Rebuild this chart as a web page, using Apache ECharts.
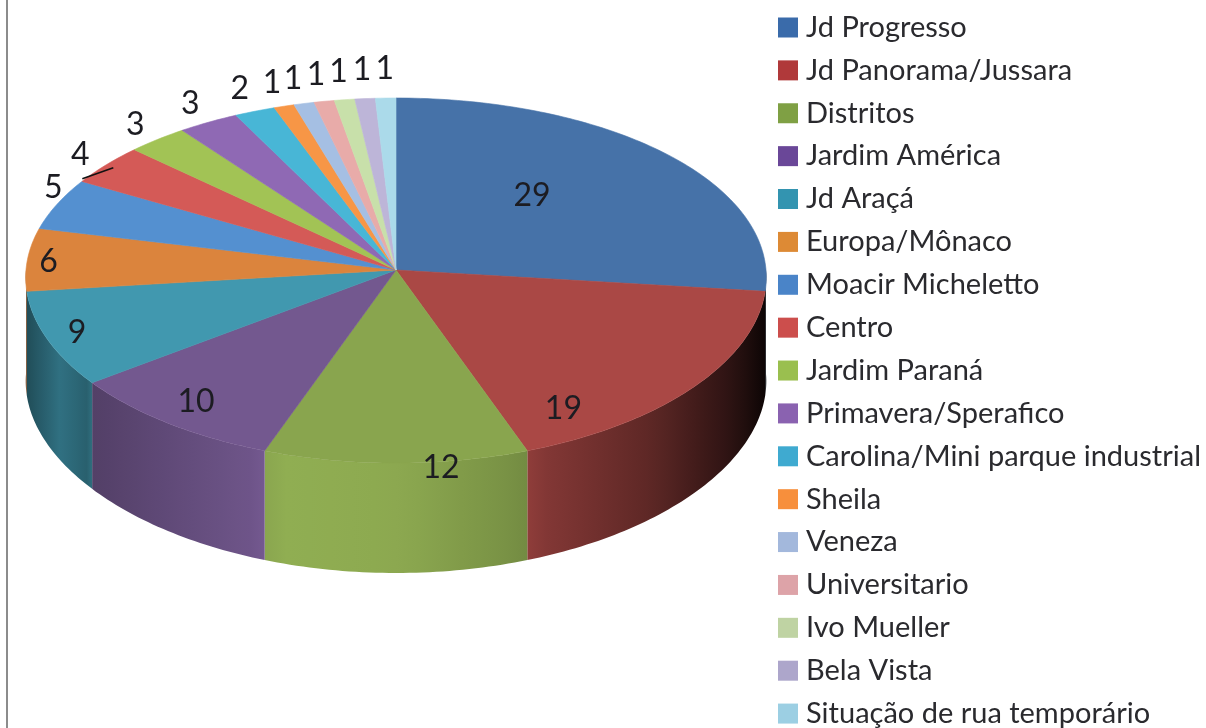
<!DOCTYPE html>
<html><head><meta charset="utf-8">
<style>html,body{margin:0;padding:0;background:#fff}#c{width:1206px;height:728px}</style>
<script src="https://cdn.jsdelivr.net/npm/echarts@6/dist/echarts.min.js"></script>
</head><body><div id="c"></div>
<script>
const categories = ["Jd Progresso","Jd Panorama/Jussara","Distritos","Jardim América","Jd Araçá","Europa/Mônaco","Moacir Micheletto","Centro","Jardim Paraná","Primavera/Sperafico","Carolina/Mini parque industrial","Sheila","Veneza","Universitario","Ivo Mueller","Bela Vista","Situação de rua temporário"];
const values = [29,19,12,10,9,6,5,4,3,3,2,1,1,1,1,1,1];
const faceColors = ["#4672A8","#AA4845","#89A54E","#73588F","#4198AF","#DB843D","#5490D0","#D45A57","#A2C355","#8F69B4","#48B6D6","#F79646","#A5BFE3","#E8ABA9","#C8E0AA","#BDB5D8","#ABDAEA"];
const legendColors = ["#3A6BAA","#B0393A","#7FA044","#6A4798","#3394B0","#DD8A35","#4A84C8","#CC4E4C","#9ABF4F","#8A62B0","#3FAAD0","#F78F3C","#A3B8DC","#DDA3A8","#BFD3A3","#ADA6CB","#9CCFE3"];
const labelNudges = [[-133,42],[-130,21],[45,5],[28,-21],[30,-6],[21,2],[-4,-16],[-26,-10],[-22,-15],[-18,-19],[-15,-23],[-12,-24],[-11,-25],[-8,-27],[-6,-28],[-3,-29],[-1,-29]];
const wallLight = [[26,.5],[60,.74],[89,.62],[91,.72],[264,.98],[266,1.06],[400,1.02],[526,.86],[530,.8],[650,.55],[735,.25],[766,.07]];

const total = values.reduce((a,b)=>a+b,0);
const CX=396, CY=270, RX=370, RY=182.5, BULGE=10.5, DEPTH=104, DEPTH_GROW=6, SKEW=.04;
function project(deg){
  const t=deg*Math.PI/180, s=Math.sin(t), c=Math.cos(t);
  return [CX+RX*s*(1-SKEW*c), CY-RY*c+BULGE*c*c];
}
function wallDepth(deg){
  const c=Math.cos(deg*Math.PI/180);
  return DEPTH+DEPTH_GROW*c*c;
}
function light(x){
  for(let i=1;i<wallLight.length;i++){
    if(x<=wallLight[i][0]){
      const a=wallLight[i-1], b=wallLight[i], f=(x-a[0])/(b[0]-a[0]);
      return a[1]+(b[1]-a[1])*Math.max(0,f);
    }
  }
  return wallLight[wallLight.length-1][1];
}
function shade(hex,k){
  const n=parseInt(hex.slice(1),16);
  const ch=[n>>16,(n>>8)&255,n&255].map(v=>Math.min(255,Math.round(v*k)));
  return `rgb(${ch.join(',')})`;
}
function angles(from,to){
  const out=[], n=Math.max(2,Math.ceil(Math.abs(to-from)));
  for(let i=0;i<=n;i++) out.push(from+(to-from)*i/n);
  return out;
}
function render(index,api){
  const v=api.value(0);
  const before=values.slice(0,index).reduce((a,b)=>a+b,0);
  const a0=before/total*360, a1=a0+v/total*360, mid=(a0+a1)/2;
  const children=[];
  const from=Math.max(a0,90), to=Math.min(a1,270);
  if(to>from){
    const as=angles(from,to);
    const top=as.map(project);
    const bottom=as.map(a=>{const p=project(a);return [p[0],p[1]+wallDepth(a)];}).reverse();
    const xs=top.map(p=>p[0]), x0=Math.min(...xs), x1=Math.max(...xs);
    const stops=[];
    for(let i=0;i<=12;i++){
      const f=i/12;
      stops.push({offset:f,color:shade(faceColors[index],light(x0+(x1-x0)*f))});
    }
    children.push({type:'polygon',shape:{points:top.concat(bottom)},z2:1,
      style:{fill:new echarts.graphic.LinearGradient(0,0,1,0,stops)}});
  }
  const pts=[[CX,CY]].concat(angles(a0,a1).map(project));
  children.push({type:'polygon',shape:{points:pts},z2:5,
    style:{fill:faceColors[index],stroke:faceColors[index],lineWidth:.6}});
  const rim=project(mid), nudge=labelNudges[index];
  children.push({type:'text',z2:50,x:rim[0]+nudge[0],y:rim[1]+nudge[1],
    style:{text:String(v),font:'32px Lato',fill:'#1c1c22',align:'center',verticalAlign:'middle'}});
  if(v===4){
    children.push({type:'line',z2:40,shape:{x1:rim[0]+7,y1:rim[1]+3,x2:rim[0]-24,y2:rim[1]+14},
      style:{stroke:'#111',lineWidth:1.6}});
  }
  return {type:'group',children};
}
const series=categories.map((name,i)=>({
  type:'custom',name,coordinateSystem:'none',silent:true,animation:false,
  itemStyle:{color:legendColors[i]},
  data:[{name,value:[values[i]]}],
  renderItem:(params,api)=>render(i,api)
}));
const chart=echarts.init(document.getElementById('c'),null,{renderer:'canvas'});
chart.setOption({
  animation:false,
  backgroundColor:'#fff',
  graphic:[{type:'line',z:100,shape:{x1:7,y1:0,x2:7,y2:728},style:{stroke:'#8c8c8c',lineWidth:2}}],
  legend:{
    orient:'vertical',left:773,top:8,height:900,itemWidth:20,itemHeight:20,itemGap:13.88,
    icon:'rect',selectedMode:false,
    textStyle:{fontFamily:'Lato',fontSize:29,color:'#2a2a2e',lineHeight:29,padding:[0,0,0,3]},
    data:categories.map((name,i)=>({name,icon:'rect',itemStyle:{color:legendColors[i]}}))
  },
  series
});
</script></body></html>
